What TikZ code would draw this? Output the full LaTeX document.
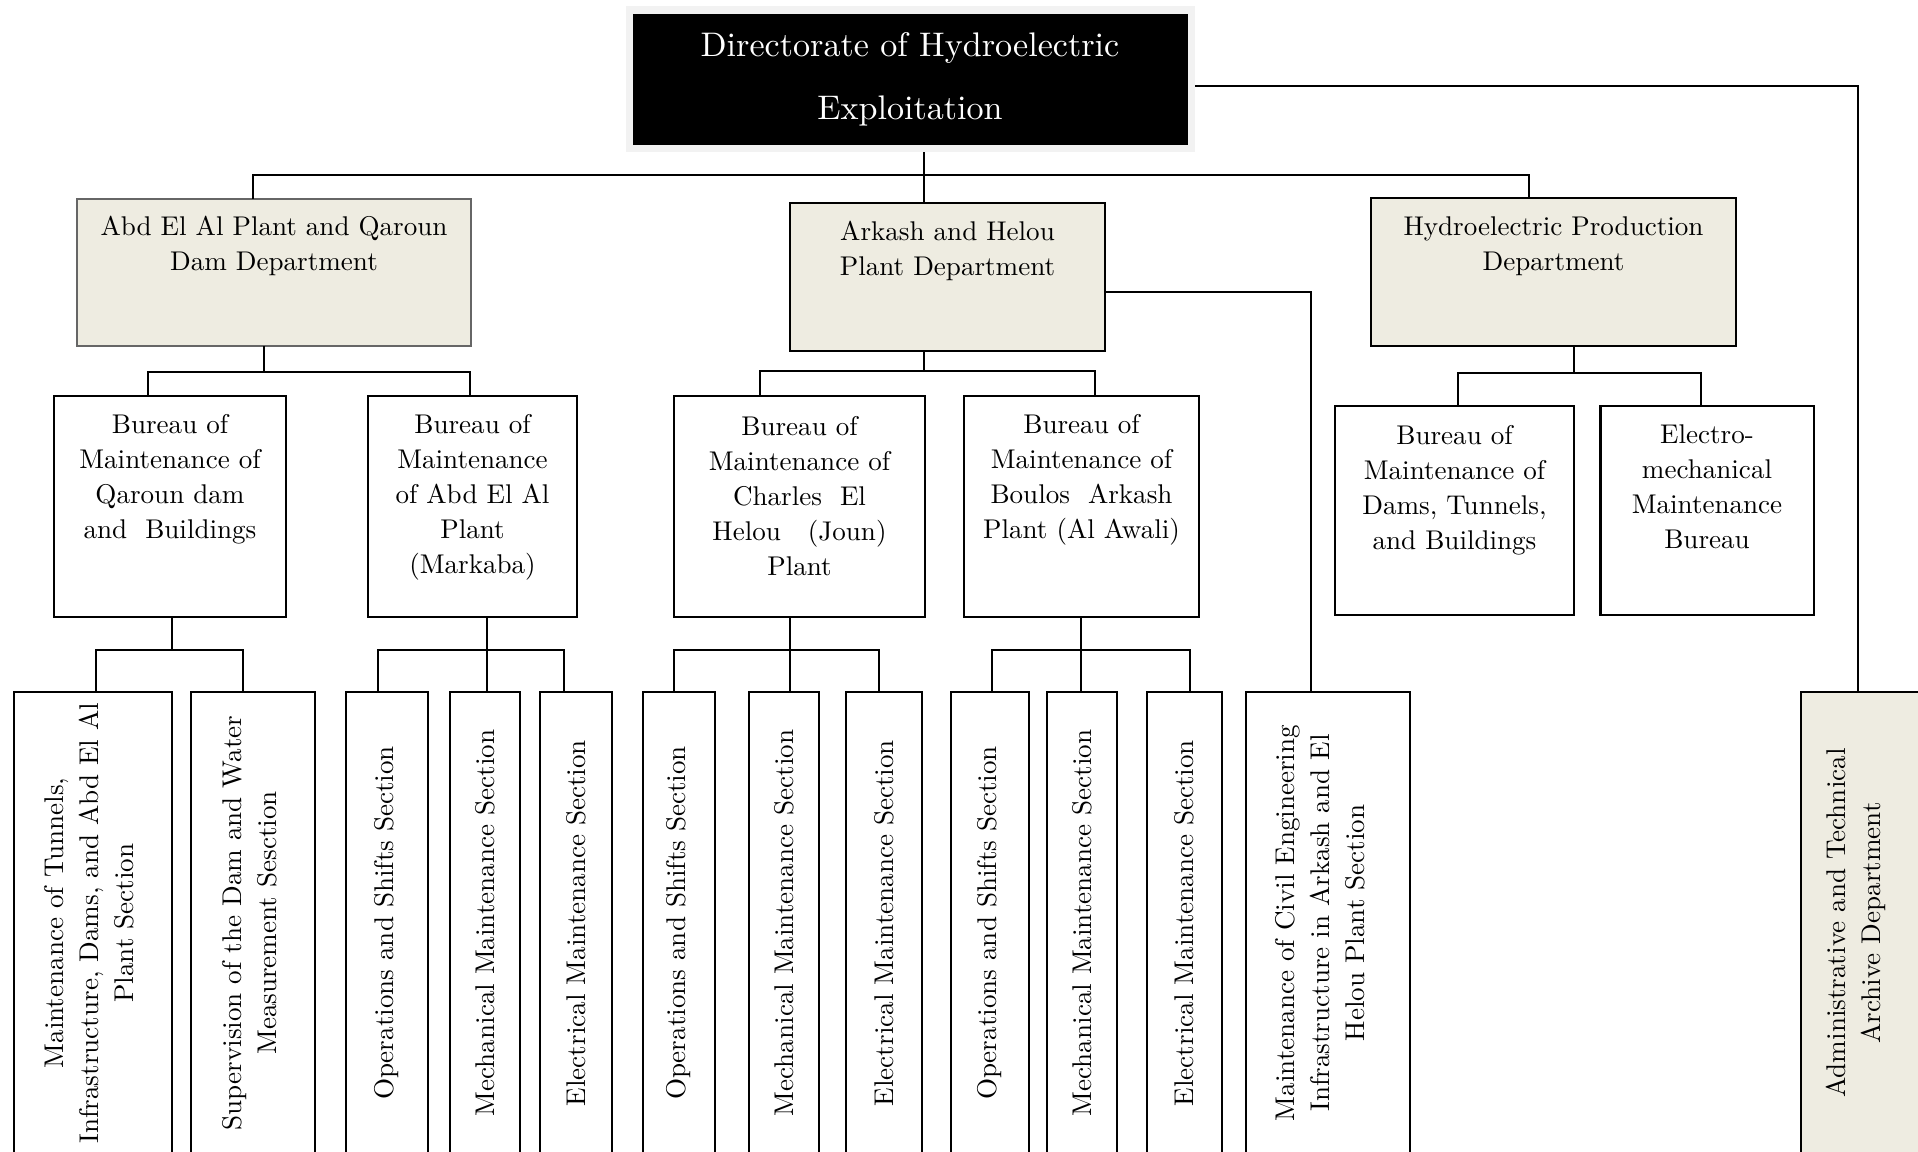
\documentclass[tikz,border=0pt]{standalone}
\usepackage{fontspec}
\setmainfont{lmroman10-regular.otf}
\definecolor{deptfill}{HTML}{EEECE1}
\definecolor{framegray}{HTML}{F2F2F2}
\begin{document}
\begin{tikzpicture}[x=0.01cm,y=-0.01cm,
  box/.style={draw=black, line width=0.6pt, inner sep=0pt, outer sep=0pt, fill=white},
  dept/.style={box, fill=deptfill},
  conn/.style={line width=0.6pt},
  txt/.style={align=center, inner sep=0pt, font=\fontsize{7.7}{9.96}\selectfont},
  vtxt/.style={txt, rotate=90},
]
\clip (0,0) rectangle (1918,1152);
\fill[white] (0,0) rectangle (1918,1152);

% ---- top
\node[fill=framegray, inner sep=0pt, outer sep=0pt, minimum width=5.69cm, minimum height=1.46cm] (topframe) at (910.5,79) {};
\node[box, fill=black, minimum width=5.53cm, minimum height=1.29cm] (top) at (910.5,79.5) {};
\node[txt, text=white, font=\fontsize{9.7}{17.9}\selectfont] (toptxt) at (910,79) {Directorate of Hydroelectric\\Exploitation};

% ---- departments
\node[dept, draw=black!60, minimum width=3.94cm, minimum height=1.47cm] (abd) at (274,272.5) {};
\node[txt] (abdT) at (274,246) {Abd El Al Plant and Qaroun\\Dam Department};
\node[dept, minimum width=3.15cm, minimum height=1.48cm] (ark) at (947.5,277) {};
\node[txt] (arkT) at (947.5,250.5) {Arkash and Helou\\Plant Department};
\node[dept, minimum width=3.65cm, minimum height=1.48cm] (hyd) at (1553.5,272) {};
\node[txt] (hydT) at (1553.5,246.5) {Hydroelectric Production\\Department};

% ---- bureaus
\node[box, minimum width=2.32cm, minimum height=2.21cm] (b1) at (170,506.5) {};
\node[txt] (b1T) at (170,479.5) {Bureau of\\Maintenance of\\Qaroun dam\\and \ Buildings};
\node[box, minimum width=2.09cm, minimum height=2.21cm] (b2) at (472.5,506.5) {};
\node[txt] (b2T) at (472.5,497) {Bureau of\\Maintenance\\of Abd El Al\\Plant\\(Markaba)};
\node[box, minimum width=2.51cm, minimum height=2.21cm] (b3) at (799.5,506.5) {};
\node[txt] (b3T) at (799.5,496) {Bureau of\\Maintenance of\\Charles \ El\\Helou \ \ (Joun)\\Plant};
\node[box, minimum width=2.35cm, minimum height=2.21cm] (b4) at (1081.5,506.5) {};
\node[txt] (b4T) at (1081.5,479.5) {Bureau of\\Maintenance of\\Boulos \ Arkash\\Plant (Al Awali)};
\node[box, minimum width=2.39cm, minimum height=2.09cm] (b5) at (1454.5,510.5) {};
\node[txt] (b5T) at (1454.5,490) {Bureau of\\Maintenance of\\Dams, Tunnels,\\and Buildings};
\node[box, minimum width=2.13cm, minimum height=2.09cm] (b6) at (1707,510.5) {};
\node[txt] (b6T) at (1707,487) {Electro-\\mechanical\\Maintenance\\Bureau};

% ---- sections
\node[box, minimum width=1.58cm, minimum height=4.65cm] (s1) at (93,924.5) {};
\node[vtxt] (s1T) at (89,923) {Maintenance of Tunnels,\\Infrastructure, Dams, and Abd El Al\\Plant Section};
\node[box, minimum width=1.24cm, minimum height=4.65cm] (s2) at (253,924.5) {};
\node[vtxt] (s2T) at (250,923) {Supervision of the Dam and Water\\Measurement Sesction};
\node[box, minimum width=0.82cm, minimum height=4.65cm] (s3) at (387,924.5) {};
\node[vtxt] (s3T) at (387,923) {Operations and Shifts Section};
\node[box, minimum width=0.70cm, minimum height=4.65cm] (s4) at (485,924.5) {};
\node[vtxt] (s4T) at (485,923) {Mechanical Maintenance Section};
\node[box, minimum width=0.72cm, minimum height=4.65cm] (s5) at (576,924.5) {};
\node[vtxt] (s5T) at (576,923) {Electrical Maintenance Section};
\node[box, minimum width=0.72cm, minimum height=4.65cm] (s6) at (679,924.5) {};
\node[vtxt] (s6T) at (679,923) {Operations and Shifts Section};
\node[box, minimum width=0.70cm, minimum height=4.65cm] (s7) at (784,924.5) {};
\node[vtxt] (s7T) at (784,923) {Mechanical Maintenance Section};
\node[box, minimum width=0.76cm, minimum height=4.65cm] (s8) at (884,924.5) {};
\node[vtxt] (s8T) at (884,923) {Electrical Maintenance Section};
\node[box, minimum width=0.78cm, minimum height=4.65cm] (s9) at (990,924.5) {};
\node[vtxt] (s9T) at (990,923) {Operations and Shifts Section};
\node[box, minimum width=0.70cm, minimum height=4.65cm] (s10) at (1082,924.5) {};
\node[vtxt] (s10T) at (1082,923) {Mechanical Maintenance Section};
\node[box, minimum width=0.75cm, minimum height=4.65cm] (s11) at (1184.5,924.5) {};
\node[vtxt] (s11T) at (1184.5,923) {Electrical Maintenance Section};
\node[box, minimum width=1.64cm, minimum height=4.65cm] (civ) at (1328,924.5) {};
\node[vtxt] (civT) at (1320,923) {Maintenance of Civil Engineering\\Infrastructure in Arkash and El\\Helou Plant Section};
\node[dept, minimum width=1.29cm, minimum height=4.65cm] (adm) at (1865.5,924.5) {};
\node[vtxt] (admT) at (1856,923) {Administrative and Technical\\Archive Department};

% ---- junctions
\coordinate (j0) at (924,175);
\coordinate (j0L) at (253,175);
\coordinate (j0R) at (1529,175);
\coordinate (jr) at (1858,86);
\coordinate (jc) at (1311,292);
\coordinate (j1) at (264,372);  \coordinate (j1L) at (148,372);  \coordinate (j1R) at (470,372);
\coordinate (j2) at (924,371);  \coordinate (j2L) at (760,371);  \coordinate (j2R) at (1095,371);
\coordinate (j3) at (1574,373); \coordinate (j3L) at (1458,373); \coordinate (j3R) at (1701,373);
\coordinate (j4) at (172,650);  \coordinate (j4L) at (96,650);   \coordinate (j4R) at (243,650);
\coordinate (j5) at (487,650);  \coordinate (j5L) at (378,650);  \coordinate (j5R) at (564,650);
\coordinate (j6) at (790,650);  \coordinate (j6L) at (674,650);  \coordinate (j6R) at (879,650);
\coordinate (j7) at (1081,650); \coordinate (j7L) at (992,650);  \coordinate (j7R) at (1190,650);

% ---- connectors
\draw[conn] (topframe.south -| j0) -- (j0) -- (ark.north -| j0);
\draw[conn] (abd.north -| j0L) -- (j0L) -- (j0R) -- (hyd.north -| j0R);
\draw[conn] (jr -| topframe.east) -- (jr) -- (adm.north -| jr);
\draw[conn] (jc -| ark.east) -- (jc) -- (civ.north -| jc);

\draw[conn] (abd.south -| j1) -- (j1);
\draw[conn] (b1.north -| j1L) -- (j1L) -- (j1R) -- (b2.north -| j1R);
\draw[conn] (ark.south -| j2) -- (j2);
\draw[conn] (b3.north -| j2L) -- (j2L) -- (j2R) -- (b4.north -| j2R);
\draw[conn] (hyd.south -| j3) -- (j3);
\draw[conn] (b5.north -| j3L) -- (j3L) -- (j3R) -- (b6.north -| j3R);

\draw[conn] (b1.south -| j4) -- (j4);
\draw[conn] (s1.north -| j4L) -- (j4L) -- (j4R) -- (s2.north -| j4R);
\draw[conn] (b2.south -| j5) -- (j5) -- (s4.north -| j5);
\draw[conn] (s3.north -| j5L) -- (j5L) -- (j5R) -- (s5.north -| j5R);
\draw[conn] (b3.south -| j6) -- (j6) -- (s7.north -| j6);
\draw[conn] (s6.north -| j6L) -- (j6L) -- (j6R) -- (s8.north -| j6R);
\draw[conn] (b4.south -| j7) -- (j7) -- (s10.north -| j7);
\draw[conn] (s9.north -| j7L) -- (j7L) -- (j7R) -- (s11.north -| j7R);
\end{tikzpicture}
\end{document}
